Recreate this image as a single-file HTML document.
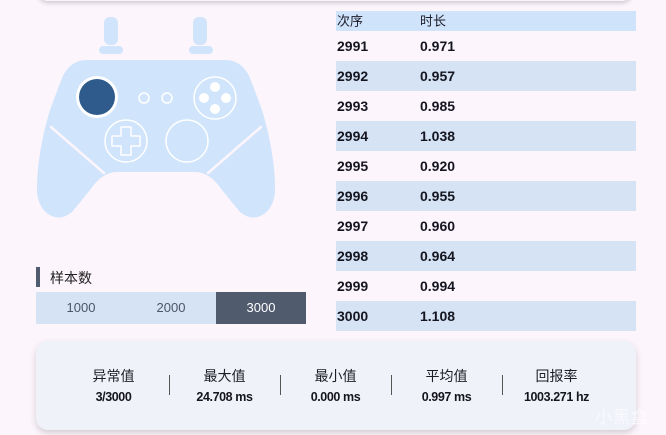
<!DOCTYPE html>
<html><head><meta charset="utf-8">
<style>
html,body{margin:0;padding:0;}
body{width:666px;height:435px;background:#fcf5fc;position:relative;overflow:hidden;font-family:"Liberation Sans","Noto Sans CJK SC",sans-serif;}
.topcard{position:absolute;left:38px;top:-40px;width:594px;height:41px;background:#fbf4fb;border-radius:10px;box-shadow:0 2px 5px rgba(0,0,0,0.18);}
.tbl{position:absolute;left:336px;top:11px;width:300px;}
.tbl .r{height:30px;position:relative;font-weight:bold;font-size:14px;color:#15151f;}
.tbl .r span{position:absolute;top:50%;transform:translateY(-50%);line-height:1;}
.tbl .r .a{left:1px;}
.tbl .r .b{left:84px;}
.tbl .h{height:20px;background:#cfe3fb;font-weight:normal;font-size:13px;color:#1c1c28;}
.tbl .s{background:#d5e3f5;}
.bar{position:absolute;left:36px;top:267px;width:4px;height:20px;background:#515b6e;}
.lab{position:absolute;left:50px;top:269px;font-size:14px;line-height:18px;color:#222;}
.seg{position:absolute;top:292px;height:32px;width:90px;line-height:32px;text-align:center;font-size:13px;color:#4c5568;background:#d5e3f5;}
.card{position:absolute;left:36px;top:341px;width:600px;height:89px;background:#f0f2f9;border-radius:12px;box-shadow:0 3px 7px rgba(0,0,0,0.16);}
.col{position:absolute;top:367px;width:111px;text-align:center;}
.col .l{font-size:14px;line-height:18px;color:#1d1d26;}
.col .v{font-size:12.5px;font-weight:bold;line-height:16px;margin-top:4px;color:#15151f;letter-spacing:-0.4px;}
.div{position:absolute;top:375px;width:1px;height:20px;background:#555;}
.wm{position:absolute;left:595px;top:403px;font-size:17px;color:rgba(255,255,255,0.6);font-family:"Noto Sans CJK SC",sans-serif;letter-spacing:1px;}
</style></head><body>
<div class="topcard"></div>

<svg style="position:absolute;left:0;top:0" width="330" height="240" viewBox="0 0 330 240">
  <g fill="#d0e4fb">
    <rect x="104" y="17" width="14" height="28" rx="6"/>
    <rect x="99" y="46" width="24" height="8" rx="4"/>
    <rect x="193" y="17" width="14" height="28" rx="6"/>
    <rect x="189" y="46" width="24" height="8" rx="4"/>
    <path d="M 87 60 L 225 60 Q 242 60 250 78 L 262 110 Q 274 150 275 185 Q 276 205 264 214 Q 252 222 240 212 L 222 190 Q 210 172 195 172 L 117 172 Q 102 172 90 190 L 72 212 Q 60 222 48 214 Q 36 205 37 185 Q 38 150 50 110 L 62 78 Q 70 60 87 60 Z"/>
  </g>
  <g stroke="#fcf5fc" stroke-width="2.5" stroke-linecap="round">
    <line x1="51" y1="127" x2="104" y2="173"/>
    <line x1="261" y1="127" x2="208" y2="173"/>
  </g>
  <circle cx="97" cy="97" r="21" fill="#ffffff"/>
  <circle cx="97" cy="97" r="18" fill="#2e5a8c"/>
  <g fill="none" stroke="#ffffff" stroke-width="1.5">
    <circle cx="144" cy="98" r="5"/>
    <circle cx="167" cy="98" r="5"/>
    <circle cx="215" cy="98" r="21"/>
    <circle cx="126" cy="141" r="21"/>
    <circle cx="187" cy="141" r="21"/>
    <path d="M 121 127 h 10 v 9 h 9 v 10 h -9 v 9 h -10 v -9 h -9 v -10 h 9 z" stroke-linejoin="round"/>
  </g>
  <g fill="#ffffff">
    <circle cx="215" cy="87" r="5"/>
    <circle cx="215" cy="109" r="5"/>
    <circle cx="204" cy="98" r="5"/>
    <circle cx="226" cy="98" r="5"/>
  </g>
</svg>

<div class="tbl">
  <div class="r h"><span class="a">次序</span><span class="b">时长</span></div>
  <div class="r"><span class="a">2991</span><span class="b">0.971</span></div>
  <div class="r s"><span class="a">2992</span><span class="b">0.957</span></div>
  <div class="r"><span class="a">2993</span><span class="b">0.985</span></div>
  <div class="r s"><span class="a">2994</span><span class="b">1.038</span></div>
  <div class="r"><span class="a">2995</span><span class="b">0.920</span></div>
  <div class="r s"><span class="a">2996</span><span class="b">0.955</span></div>
  <div class="r"><span class="a">2997</span><span class="b">0.960</span></div>
  <div class="r s"><span class="a">2998</span><span class="b">0.964</span></div>
  <div class="r"><span class="a">2999</span><span class="b">0.994</span></div>
  <div class="r s"><span class="a">3000</span><span class="b">1.108</span></div>
</div>

<div class="bar"></div>
<div class="lab">样本数</div>
<div class="seg" style="left:36px">1000</div>
<div class="seg" style="left:126px">2000</div>
<div class="seg" style="left:216px;background:#515b6e;color:#ffffff">3000</div>

<div class="card"></div>
<div class="col" style="left:58px"><div class="l">异常值</div><div class="v">3/3000</div></div>
<div class="col" style="left:169px"><div class="l">最大值</div><div class="v">24.708 ms</div></div>
<div class="col" style="left:280px"><div class="l">最小值</div><div class="v">0.000 ms</div></div>
<div class="col" style="left:391px"><div class="l">平均值</div><div class="v">0.997 ms</div></div>
<div class="col" style="left:501px"><div class="l">回报率</div><div class="v">1003.271 hz</div></div>
<div class="div" style="left:169px"></div>
<div class="div" style="left:280px"></div>
<div class="div" style="left:391px"></div>
<div class="div" style="left:502px"></div>
<div class="wm">小黑盒</div>
</body></html>
